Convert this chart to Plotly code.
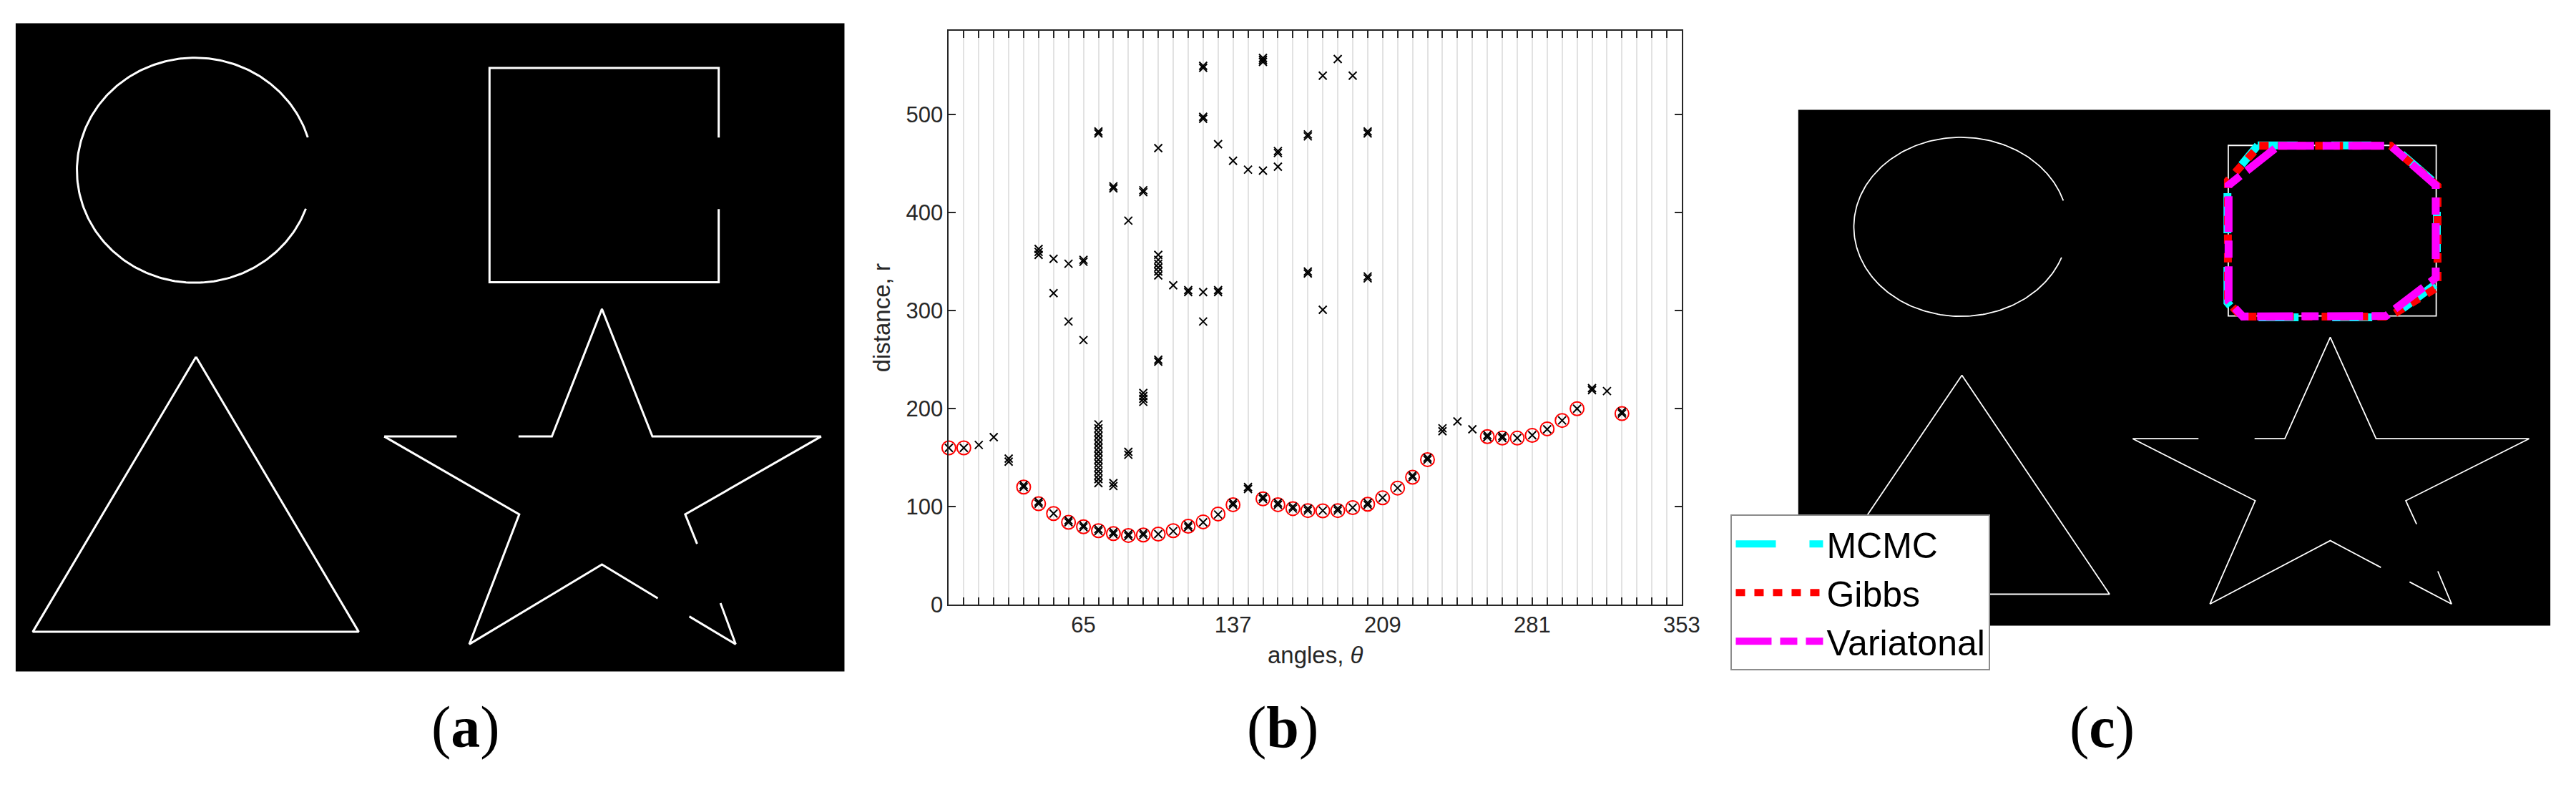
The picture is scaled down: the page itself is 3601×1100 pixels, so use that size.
import numpy as np
import plotly.graph_objects as go

W, H = 3601, 1100

# ---------------- panel (b): Hough space peaks ----------------
theta_step = 7.2
theta_max = 352.8
rho_max = 585.5

tick_pos = [64.8, 136.8, 208.8, 280.8, 352.8]
tick_text = ["65", "137", "209", "281", "353"]
rho_ticks = [0, 100, 200, 300, 400, 500]

# every accumulator peak (black x)
peak_theta = (
    [0.0, 7.2, 14.4, 21.6, 28.8, 28.8, 36.0, 36.0]
    + [43.2] * 5 + [50.4] * 3 + [57.6] * 4 + [64.8] * 5
    + [72.0] * 20 + [79.2] * 6 + [86.4] * 5 + [93.6] * 8 + [100.8] * 10
    + [108.0] * 2 + [115.2] * 4 + [122.4] * 7 + [129.6] * 4 + [136.8] * 3
    + [144.0] * 3 + [151.2] * 6 + [158.4] * 5 + [165.6] * 2 + [172.8] * 6
    + [180.0] * 3 + [187.2] * 3 + [194.4] * 2 + [201.6] * 6
    + [208.8, 216.0, 223.2, 223.2, 230.4, 230.4, 237.6, 237.6, 244.8, 252.0]
    + [259.2, 259.2, 266.4, 266.4, 273.6, 280.8, 288.0, 295.2, 302.4]
    + [309.6, 309.6, 316.8, 324.0, 324.0]
)
peak_rho = (
    [160, 160, 163, 171, 146, 149, 120, 122]
    + [103, 105, 357, 360, 363]
    + [93, 318, 353]
    + [84, 86, 289, 348]
    + [79, 81, 270, 350, 352]
    + [75, 77, 124, 128, 132, 136, 140, 144, 148, 152, 156, 160, 164, 168,
       172, 176, 180, 184, 481, 483]
    + [72, 74, 121, 124, 425, 427]
    + [70, 72, 153, 156, 392]
    + [71, 73, 207, 210, 213, 216, 421, 423]
    + [72, 248, 250, 336, 340, 344, 348, 352, 357, 466]
    + [75, 326]
    + [79, 81, 319, 321]
    + [84, 289, 319, 496, 498, 548, 550]
    + [92, 319, 321, 470]
    + [102, 104, 453]
    + [118, 120, 444]
    + [108, 110, 443, 554, 556, 558]
    + [102, 104, 447, 461, 463]
    + [98, 100]
    + [96, 98, 338, 340, 478, 480]
    + [96, 301, 540]
    + [96, 98, 557]
    + [99, 540]
    + [102, 104, 333, 335, 481, 483]
    + [109, 119, 130, 132, 148, 150, 177, 180, 187, 179]
    + [171, 173, 170, 172, 170, 173, 179, 188, 200]
    + [219, 221, 218, 195, 197]
)

# peaks kept as shape edges (red circles)
sel_theta = [0.0, 7.2, 36.0, 43.2, 50.4, 57.6, 64.8, 72.0, 79.2, 86.4, 93.6,
             100.8, 108.0, 115.2, 122.4, 129.6, 136.8, 151.2, 158.4, 165.6,
             172.8, 180.0, 187.2, 194.4, 201.6, 208.8, 216.0, 223.2, 230.4,
             259.2, 266.4, 273.6, 280.8, 288.0, 295.2, 302.4, 324.0]
sel_rho = [160, 160, 120, 103, 93, 84, 79.5, 75.5, 72.5, 70.6, 71, 72, 75.5,
           80, 84.5, 92.5, 102, 108, 102, 98, 96, 95.7, 96, 99, 102.5, 109,
           119, 130, 148, 171.5, 170, 170, 172.7, 179.4, 188, 200, 195]

# ---------------- panels (a) and (c): edge image ----------------
img_w, img_h = 460, 363

circle_center = (99.5, 82.3)
circle_radii = (65.5, 63.0)
circle_arc_deg = (17, 340)

square_u = [390.2, 390.2, 263.0, 263.0, 390.2, 390.2]
square_v = [64.0, 25.0, 25.0, 145.0, 145.0, 104.0]

tri_u = [100.1, 190.4, 9.5, 100.1]
tri_v = [186.8, 340.8, 340.8, 186.8]

star_u = [204.6, 244.8, None,
          279.1, 297.6, 325.4, 353.4, 447.0, 371.6, 378.2, None,
          391.2, 399.6, 373.9, None,
          356.4, 325.4, 251.8, 279.5, 204.6]
star_v = [231.4, 231.4, None,
          231.4, 231.4, 160.0, 231.4, 231.4, 275.0, 291.5, None,
          324.7, 347.7, 332.2, None,
          322.0, 303.1, 347.7, 275.0, 231.4]

# fitted square outlines
mcmc_u = [281.0, 363.0, 390.6, 390.6, 362.5, 270.0, 262.5, 262.5, 281.0]
mcmc_v = [25.0, 25.0, 52.5, 122.0, 146.0, 146.0, 135.5, 50.5, 25.0]
gibbs_u = [282.0, 362.4, 391.0, 391.0, 361.7, 271.0, 262.8, 262.8, 282.0]
gibbs_v = [25.3, 25.3, 53.5, 124.8, 145.4, 145.4, 135.0, 49.7, 25.3]
var_u = [293.6, 362.4, 389.9, 389.9, 359.5, 271.9, 263.2, 263.2, 293.6]
var_v = [25.3, 25.3, 53.0, 118.2, 145.0, 145.4, 134.7, 53.0, 25.3]

AX = "#262626"
SANS = "Liberation Sans, Arial, sans-serif"
SERIF = "Liberation Serif, Times New Roman, serif"

fig = go.Figure()

# panel (b)
fig.add_trace(go.Scatter(
    x=sel_theta, y=sel_rho, mode="markers", showlegend=False, cliponaxis=False,
    marker=dict(symbol="circle-open", size=19, color="#ff0000",
                line=dict(width=2, color="#ff0000")),
    xaxis="x", yaxis="y"))
fig.add_trace(go.Scatter(
    x=peak_theta, y=peak_rho, mode="markers", showlegend=False, cliponaxis=False,
    marker=dict(symbol="x-thin", size=11, color="black",
                line=dict(width=2, color="black")),
    xaxis="x", yaxis="y"))

# panels (a) and (c): the same edge image
ang = np.radians(np.linspace(circle_arc_deg[0], circle_arc_deg[1], 240))
circ_u = circle_center[0] + circle_radii[0] * np.cos(ang)
circ_v = circle_center[1] - circle_radii[1] * np.sin(ang)

for xa, ya, lw in [("x2", "y2", 3), ("x3", "y3", 1.8)]:
    for uu, vv in [(circ_u, circ_v), (square_u, square_v),
                   (tri_u, tri_v), (star_u, star_v)]:
        fig.add_trace(go.Scatter(
            x=uu, y=vv, mode="lines", showlegend=False, hoverinfo="skip",
            line=dict(color="white", width=lw), connectgaps=False,
            xaxis=xa, yaxis=ya))

fits = [
    ("MCMC", mcmc_u, mcmc_v, "#00ffff", "56px,47px"),
    ("Gibbs", gibbs_u, gibbs_v, "#ff0000", "13px,13px"),
    ("Variatonal", var_u, var_v, "#ff00ff", "50px,12px,24px,12px"),
]
for name, uu, vv, col, dash in fits:
    fig.add_trace(go.Scatter(
        x=uu, y=vv, mode="lines", name=name,
        line=dict(color=col, width=11, dash=dash),
        xaxis="x3", yaxis="y3"))

grid_vals = [round(i * theta_step, 1) for i in range(int(round(theta_max / theta_step)) + 1)]
label_at = {p: t for p, t in zip(tick_pos, tick_text)}
grid_text = [label_at.get(v, "") for v in grid_vals]

hidden = dict(visible=False, showgrid=False, zeroline=False)

fig.update_layout(
    width=W, height=H,
    margin=dict(l=0, r=0, t=0, b=0),
    paper_bgcolor="white", plot_bgcolor="white",
    xaxis=dict(
        domain=[1328 / W, 2360 / W], range=[0, theta_max],
        tickmode="array", tickvals=grid_vals, ticktext=grid_text,
        ticks="inside", ticklen=10, tickwidth=2, tickcolor=AX,
        showline=True, linecolor=AX, linewidth=2, mirror="ticks",
        showgrid=True, gridcolor="#e2e2e2", gridwidth=2, zeroline=False,
        tickfont=dict(family=SANS, size=31, color=AX),
        title=dict(text="angles, <i>θ</i>", standoff=14,
                   font=dict(family=SANS, size=33, color=AX))),
    yaxis=dict(
        domain=[(H - 851) / H, (H - 36) / H], range=[0, rho_max],
        tickmode="array", tickvals=rho_ticks,
        ticks="inside", ticklen=10, tickwidth=2, tickcolor=AX,
        showline=True, linecolor=AX, linewidth=2, mirror="ticks",
        showgrid=False, zeroline=False,
        tickfont=dict(family=SANS, size=31, color=AX),
        title=dict(text="distance, r", standoff=12,
                   font=dict(family=SANS, size=33, color=AX))),
    xaxis2=dict(domain=[14 / W, 1181 / W], range=[0, img_w], **hidden),
    yaxis2=dict(domain=[(H - 946) / H, (H - 25) / H], range=[img_h, 0], **hidden),
    xaxis3=dict(domain=[2524 / W, 3583 / W], range=[0, img_w], **hidden),
    yaxis3=dict(domain=[(H - 881) / H, (H - 148) / H], range=[img_h, 0], **hidden),
    legend=dict(x=2429 / W, y=(H - 723) / H, xanchor="left", yanchor="top",
                bgcolor="white", bordercolor="#8c8c8c", borderwidth=2,
                font=dict(family=SANS, size=50, color="black"),
                itemwidth=122, tracegroupgap=0),
    shapes=[
        dict(type="rect", xref="x2 domain", yref="y2 domain", x0=0, x1=1, y0=0, y1=1,
             fillcolor="black", line=dict(width=0), layer="below"),
        dict(type="rect", xref="x3 domain", yref="y3 domain", x0=0, x1=1, y0=0, y1=1,
             fillcolor="black", line=dict(width=0), layer="below"),
    ],
)

for letter, xc in [("a", 597.5), ("b", 1798), ("c", 2999.7)]:
    fig.add_annotation(
        x=xc / W, y=(H - 1031) / H, xref="paper", yref="paper", yshift=-42,
        text=f"(<b>{letter}</b>)", showarrow=False,
        font=dict(family=SERIF, size=82, color="black"))

fig.write_html("out.html")
